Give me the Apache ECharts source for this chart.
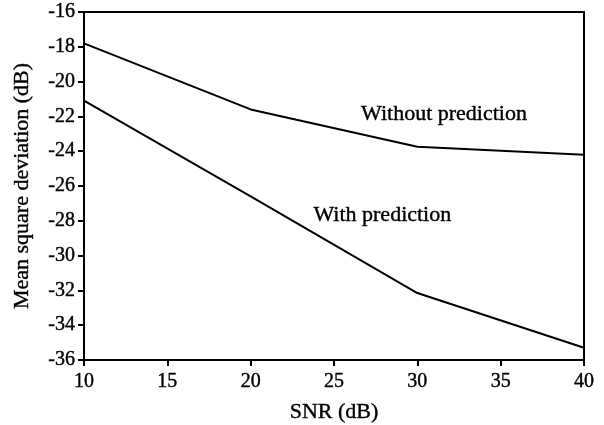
<!DOCTYPE html>
<html>
<head>
<meta charset="utf-8">
<script src="https://cdn.jsdelivr.net/npm/echarts@6/dist/echarts.min.js"></script>
<style>
html, body { margin: 0; padding: 0; background: #fff; }
#main { width: 604px; height: 425px; }
</style>
</head>
<body>
<div id="main"></div>
<script>
var snr = [10, 20, 30, 40];
var withoutPred = [-17.8, -21.6, -23.75, -24.2];
var withPred = [-21.1, -26.6, -32.15, -35.3];
var yTicks = [-36, -16];

function pairs(xs, ys) {
    var out = [];
    for (var i = 0; i < xs.length; i++) {
        out.push([xs[i], ys[i]]);
    }
    return out;
}

var font = 'Liberation Serif';
// thin outline makes the serif text a little heavier, like the scan
var ink = { color: '#000', fontFamily: font, textBorderColor: '#000', textBorderWidth: 0.4 };
var chart = echarts.init(document.getElementById('main'));

function txt(size, extra) {
    var o = { fontSize: size };
    for (var k in ink) o[k] = ink[k];
    for (var j in extra) o[j] = extra[j];
    return o;
}

// text note placed at a data coordinate
function note(text, x, y) {
    return {
        symbol: 'rect',
        symbolSize: 1,
        itemStyle: { color: 'rgba(0,0,0,0)' },
        data: [{ coord: [x, y] }],
        label: txt(22, { show: true, formatter: text, position: 'inside' })
    };
}

chart.setOption({
    animation: false,
    grid: { left: 84, right: 20, top: 12, bottom: 65, outerBoundsMode: 'none', containLabel: false,
            show: true, borderColor: '#000', borderWidth: 2 },
    xAxis: {
        type: 'value', min: 10, max: 40, interval: 5,
        name: 'SNR (dB)', nameLocation: 'middle', nameGap: 41,
        nameTextStyle: txt(22),
        axisLine: { lineStyle: { color: '#000', width: 2 } },
        axisTick: { inside: false, length: 6, lineStyle: { color: '#000', width: 2 } },
        axisLabel: txt(20, { margin: 12 }),
        splitLine: { show: false }
    },
    yAxis: {
        type: 'value', min: yTicks[0], max: yTicks[1], interval: 2,
        name: 'Mean square deviation (dB)', nameLocation: 'middle', nameGap: 51,
        nameTextStyle: txt(22),
        axisLine: { lineStyle: { color: '#000', width: 2 } },
        axisTick: { inside: false, length: 6, lineStyle: { color: '#000', width: 2 } },
        axisLabel: txt(20, { margin: 9 }),
        splitLine: { show: false }
    },
    series: [
        {
            name: 'Without prediction', type: 'line', data: pairs(snr, withoutPred),
            showSymbol: false, lineStyle: { color: '#000', width: 2 },
            markPoint: note('Without prediction', 31.6, -21.9)
        },
        {
            name: 'With prediction', type: 'line', data: pairs(snr, withPred),
            showSymbol: false, lineStyle: { color: '#000', width: 2 },
            markPoint: note('With prediction', 27.9, -27.7)
        }
    ]
});
</script>
</body>
</html>
